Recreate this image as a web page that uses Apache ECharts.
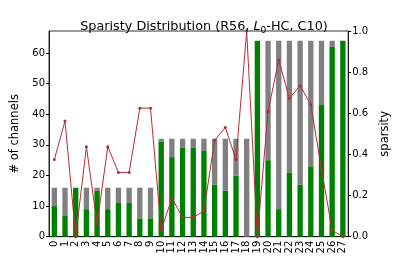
<!DOCTYPE html>
<html><head><meta charset="utf-8">
<script src="https://cdn.jsdelivr.net/npm/echarts@6/dist/echarts.min.js"></script>
<style>html,body{margin:0;padding:0;background:#fff}#c{width:399px;height:266px}</style>
</head><body><div id="c"></div>
<script>
const categories = ['0','1','2','3','4','5','6','7','8','9','10','11','12','13','14','15','16','17','18','19','20','21','22','23','24','25','26','27'];
const remaining = [10,7,16,9,15,9,11,11,6,6,31,26,29,29,28,17,15,20,0,64,25,9,21,17,23,43,62,64];
const pruned    = [6,9,0,7,1,7,5,5,10,10,1,6,3,3,4,15,17,12,32,0,39,55,43,47,41,21,2,0];
const sparsity  = [0.375,0.5625,0,0.4375,0.0625,0.4375,0.3125,0.3125,0.625,0.625,0.031,0.1875,0.094,0.094,0.125,0.469,0.531,0.375,1.0,0,0.609,0.859,0.672,0.734,0.641,0.328,0.031,0];
const leftTicks = [0,10,20,30,40,50,60];
const rightTicks = [0,0.2,0.4,0.6,0.8,1.0];

const font = 'DejaVu Sans';
const chart = echarts.init(document.getElementById('c'), null, {renderer:'canvas'});
chart.setOption({
  animation: false,
  textStyle: {fontFamily: font},
  title: {
    text: '{a|Sparisty Distribution (R56, }{i|L}{s|0}{a|-HC, C10)}',
    left: 199, top: 14, textAlign: 'center',
    textStyle: {fontWeight: 'normal', rich: {
      a: {fontSize: 12.8, fontFamily: font, fontWeight: 'normal', color: '#000'},
      i: {fontSize: 12.8, fontFamily: font, fontWeight: 'normal', fontStyle: 'italic', color: '#000'},
      s: {fontSize: 9, fontFamily: font, fontWeight: 'normal', color: '#000', verticalAlign: 'bottom', padding: [7,0,0,0]}
    }}
  },
  grid: {left: 49, right: 39.5, top: 31, bottom: 29.3, show: true, borderColor: '#000', borderWidth: 0.8, backgroundColor: 'transparent'},
  xAxis: {
    type: 'category', data: categories,
    axisLine: {lineStyle: {color: '#000', width: 0.8}},
    axisTick: {alignWithLabel: true, length: 3, lineStyle: {color: '#000'}},
    axisLabel: {rotate: 90, fontSize: 10, color: '#000', margin: 4, interval: 0}
  },
  yAxis: [{
    type: 'value', min: 0, max: 67.2, interval: 10,
    name: '# of channels', nameLocation: 'middle', nameGap: 19, nameRotate: 90,
    nameTextStyle: {fontSize: 11.5, color: '#000'},
    axisLine: {show: true, lineStyle: {color: '#000', width: 0.8}},
    axisTick: {show: true, length: 3, lineStyle: {color: '#000'}},
    axisLabel: {fontSize: 10, color: '#000', margin: 4, showMaxLabel: false,
      formatter: v => leftTicks.includes(v) ? String(v) : ''},
    splitLine: {show: false}
  },{
    type: 'value', min: 0, max: 1, interval: 0.2, position: 'right',
    name: 'sparsity', nameLocation: 'middle', nameGap: 21, nameRotate: 90,
    nameTextStyle: {fontSize: 11.5, color: '#000'},
    axisLine: {show: true, lineStyle: {color: '#000', width: 0.8}},
    axisTick: {show: true, length: 3, lineStyle: {color: '#000'}},
    axisLabel: {fontSize: 10, color: '#000', margin: 4, formatter: v => v.toFixed(1)},
    splitLine: {show: false}
  }],
  series: [
    {type: 'bar', stack: 'ch', data: remaining, barWidth: '50%', itemStyle: {color: '#008000'}, yAxisIndex: 0},
    {type: 'bar', stack: 'ch', data: pruned, barWidth: '50%', itemStyle: {color: '#808080'}, yAxisIndex: 0},
    {type: 'line', data: sparsity, yAxisIndex: 1, symbol: 'circle', symbolSize: 3,
      lineStyle: {color: '#b22e36', width: 1}, itemStyle: {color: '#b22e36'}, z: 5}
  ]
});
</script></body></html>
